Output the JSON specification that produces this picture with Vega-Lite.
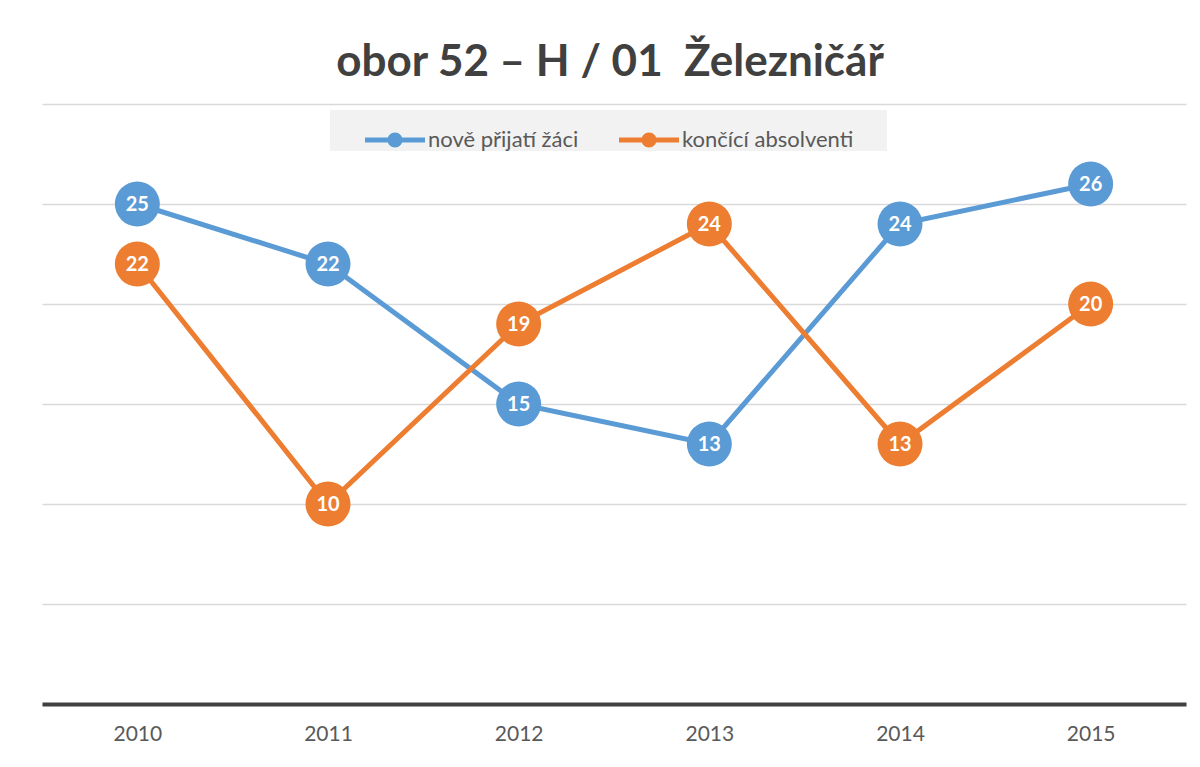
{
  "$schema": "https://vega.github.io/schema/vega-lite/v6.json",
  "width": 1144,
  "height": 600,
  "autosize": {"type": "none"},
  "padding": {"left": 42, "top": 104, "right": 14, "bottom": 63},
  "background": "white",
  "title": {
    "text": "obor 52 – H / 01\u00a0 Železničář",
    "font": "Lato",
    "fontSize": 44,
    "fontWeight": "bold",
    "color": "#404040",
    "anchor": "middle",
    "frame": "group",
    "baseline": "alphabetic",
    "offset": -16,
    "dx": -4
  },
  "data": {
    "values": [
      {"year": "2010", "series": "nově přijatí žáci", "value": 25},
      {"year": "2011", "series": "nově přijatí žáci", "value": 22},
      {"year": "2012", "series": "nově přijatí žáci", "value": 15},
      {"year": "2013", "series": "nově přijatí žáci", "value": 13},
      {"year": "2014", "series": "nově přijatí žáci", "value": 24},
      {"year": "2015", "series": "nově přijatí žáci", "value": 26},
      {"year": "2010", "series": "končící absolventi", "value": 22},
      {"year": "2011", "series": "končící absolventi", "value": 10},
      {"year": "2012", "series": "končící absolventi", "value": 19},
      {"year": "2013", "series": "končící absolventi", "value": 24},
      {"year": "2014", "series": "končící absolventi", "value": 13},
      {"year": "2015", "series": "končící absolventi", "value": 20}
    ]
  },
  "encoding": {
    "x": {
      "field": "year",
      "type": "ordinal",
      "axis": {
        "title": null,
        "labelAngle": 0,
        "labelFont": "Lato",
        "labelFontSize": 21,
        "labelColor": "#595959",
        "labelPadding": 19,
        "ticks": false,
        "domainColor": "#404040",
        "domainWidth": 4,
        "grid": false
      }
    },
    "y": {
      "field": "value",
      "type": "quantitative",
      "scale": {"domain": [0, 30]},
      "axis": {
        "title": null,
        "labels": false,
        "ticks": false,
        "domain": false,
        "grid": true,
        "gridColor": "#d9d9d9",
        "gridWidth": 1.5,
        "values": [0, 5, 10, 15, 20, 25, 30]
      }
    },
    "color": {
      "field": "series",
      "type": "nominal",
      "scale": {
        "domain": ["nově přijatí žáci", "končící absolventi"],
        "range": ["#5B9BD5", "#ED7D31"]
      },
      "legend": {
        "orient": "none",
        "legendX": 288,
        "legendY": 6,
        "direction": "horizontal",
        "title": "\u2003",
        "titleOrient": "right",
        "titleFontSize": 22,
        "titlePadding": 34,
        "fillColor": "#f2f2f2",
        "padding": 0,
        "symbolType": "M-1,-0.08 L1,-0.08 L1,0.08 L-1,0.08 Z M-0.25,0 A0.25,0.25 0 1,1 0.25,0 A0.25,0.25 0 1,1 -0.25,0 Z",
        "symbolSize": 3600,
        "symbolStrokeWidth": 0,
        "labelFont": "Lato",
        "labelFontSize": 22,
        "labelColor": "#595959",
        "labelOffset": 3,
        "labelLimit": 400,
        "symbolOffset": 35,
        "columnPadding": 5,
        "encode": {
          "symbols": {
            "update": {
              "fill": {"scale": "color", "field": "value"},
              "fillOpacity": {"value": 1},
              "opacity": {"value": 1},
              "stroke": {"value": "transparent"}
            }
          }
        }
      }
    }
  },
  "layer": [
    {"mark": {"type": "line", "strokeWidth": 5}},
    {"mark": {"type": "point", "filled": true, "size": 2025, "opacity": 1, "shape": "circle"}},
    {
      "mark": {"type": "text", "font": "Lato", "fontWeight": "bold", "fontSize": 20, "baseline": "middle", "dy": 1},
      "encoding": {"text": {"field": "value"}, "color": {"value": "white"}}
    }
  ],
  "config": {"view": {"stroke": null}}
}
